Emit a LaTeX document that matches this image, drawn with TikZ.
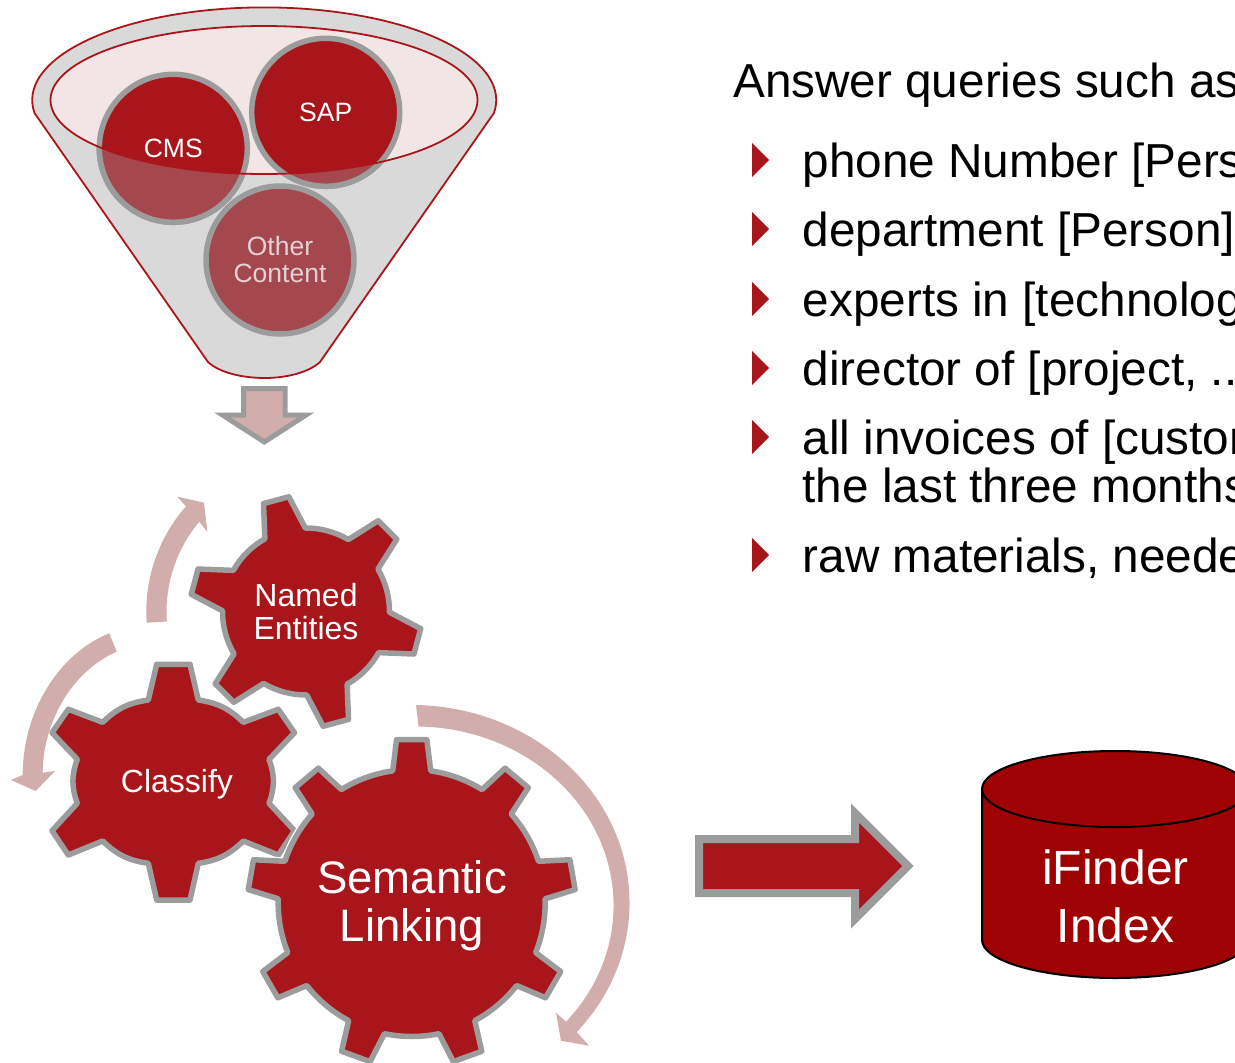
\documentclass[tikz,border=0pt]{standalone}
\usepackage{fontspec}
\setmainfont{Liberation Sans}
\usetikzlibrary{shadows}
\definecolor{brick}{HTML}{A8161C}
\definecolor{dimred}{HTML}{A5484E}
\definecolor{rim}{HTML}{9C9C9C}
\definecolor{funnelgray}{HTML}{D9D9D9}
\definecolor{blush}{HTML}{F1E5E5}
\definecolor{rose}{HTML}{D1ADAC}
\definecolor{cylred}{HTML}{9E0202}
\definecolor{dimtext}{HTML}{E3D2D3}
\tikzset{
  gearbody/.style={fill=brick,draw=rim,line width=5.5pt,line join=round},
  gearhalo/.style={draw=white,line width=8pt,line join=round},
  rosearrow/.style={fill=rose,draw=none},
  disc/.style={fill=brick,draw=rim,line width=5.5pt},
  dimdisc/.style={fill=dimred,draw=rim,line width=5.5pt},
  funnelline/.style={draw=brick,line width=1.8pt},
  lbl/.style={inner sep=0pt,align=center,text=white},
  bodytext/.style={inner sep=0pt,anchor=base west,text=black,font=\fontsize{47.7}{48}\selectfont},
  bullet/.style={fill=brick,draw=none},
}
% #1 cx, #2 cy, #3 teeth, #4 phase, #5 tip r, #6 root r, #7 tip half angle, #8 root half angle, #9 style
\newcommand{\gearshape}[9]{%
  \path[#9] ([shift={(#1,#2)}]#4-#8:#6)
  \foreach \k [evaluate=\k as \a using #4+(\k-1)*360/#3] in {1,...,#3} {
    -- ([shift={(#1,#2)}]\a-#8:#6)
    -- ([shift={(#1,#2)}]\a-#7:#5)
    -- ([shift={(#1,#2)}]\a+#7:#5)
    -- ([shift={(#1,#2)}]\a+#8:#6)
    arc[start angle={\a+#8},end angle={\a+360/#3-#8},radius=#6]
  } -- cycle;}
\newcommand{\rowbullet}[1]{\path[bullet] (752,{-(#1)+17}) -- (769,{-(#1)}) -- (752,{-(#1)-17}) -- cycle;}
\newcommand{\funnelpath}{(34.5,-113) arc[start angle=188,end angle=-8,x radius=232,y radius=92.7] -- (320,-362) .. controls (308,-373) and (285,-378) .. (265,-378) .. controls (243,-378) and (220,-373) .. (208,-362) -- cycle}
\newcommand{\innerpath}{(264,-100) ellipse[x radius=213.5,y radius=74]}
\begin{document}
\begin{tikzpicture}[x=1pt,y=1pt]
\useasboundingbox (0,0) rectangle (1235,-1063);
\clip (0,0) rectangle (1235,-1063);

% funnel
\path[fill=funnelgray,funnelline] \funnelpath;
\path[fill=blush] \innerpath;
\path[disc] (173.3,-148.3) circle[radius=74];
\path[disc] (325.7,-112.3) circle[radius=74];
\path[dimdisc] (280,-260) circle[radius=74];
\begin{scope}[even odd rule]
  \clip (0,0) rectangle (1235,-1063) \innerpath;
  \path[dimdisc] (173.3,-148.3) circle[radius=74];
  \path[dimdisc] (325.7,-112.3) circle[radius=74];
\end{scope}
\path[funnelline] \innerpath;
\node[lbl,font=\fontsize{26.5}{27}\selectfont] (cms) at (173.3,-148.5) {CMS};
\node[lbl,font=\fontsize{26.5}{27}\selectfont] (sap) at (325.7,-112.5) {SAP};
\node[lbl,text=dimtext,font=\fontsize{26.5}{27}\selectfont] (other) at (280,-260) {Other\\Content};

% down arrow
\path[fill=rose,draw=rim,line width=5pt,miter limit=10] (243.5,-388.5) -- (285,-388.5) -- (285,-415) -- (306,-415) -- (264.3,-442) -- (222.5,-415) -- (243.5,-415) -- cycle;

% curved arrows
\path[rosearrow] (146.7,-622.7) arc[start angle=184,end angle=138.7,radius=159.5] -- (177.3,-496.7) -- (204,-502.7) -- (207.3,-531.7) -- (199.3,-521.7) arc[start angle=140,end angle=184,radius=140] -- cycle;
\path[rosearrow] (109.3,-633.3) .. controls (60,-653) and (22.7,-710) .. (22.7,-775) -- (10.7,-780) -- (35.7,-791) -- (55,-771) -- (42.7,-772.7) .. controls (42.7,-725) and (70,-672) .. (116.7,-651.7) -- cycle;
\path[rosearrow] (416,-705) arc[start angle=88.7,end angle=-40.7,x radius=218.5,y radius=198] -- (589,-1045.7) -- (561,-1040.7) -- (556,-1012.7) -- (566,-1021.7) arc[start angle=-40.5,end angle=89,x radius=198.5,y radius=179] -- cycle;

% gears
\path[gearbody] (156.7,-664.3) -- (190,-664.3) -- (198.3,-700) to[bend left=18] (243.3,-722.3) -- (278.3,-709.3) -- (294.5,-732.7) -- (269,-759.3) to[bend left=20] (269,-803.3) -- (294.5,-830.7) -- (278.3,-855) -- (243.3,-841) to[bend left=18] (198.3,-863.3) -- (190,-900) -- (156.7,-900) -- (148.3,-863.3) to[bend left=18] (102.7,-841) -- (68.3,-855) -- (52,-830.7) -- (77.3,-803.3) to[bend left=20] (77.3,-759.3) -- (52,-732.7) -- (68.3,-709.3) -- (102.7,-722.3) to[bend left=18] (148.3,-700) -- cycle;
\gearshape{306}{-611.5}{6}{45}{116}{83.5}{6.5}{14.5}{gearbody}
\gearshape{411.7}{-903}{9}{90}{164}{133.5}{5.3}{8.2}{gearhalo}
\gearshape{411.7}{-903}{9}{90}{164}{133.5}{5.3}{8.2}{gearbody}
\node[lbl,font=\fontsize{32}{33}\selectfont] (classify) at (177,-784) {Classify};
\node[lbl,font=\fontsize{32}{33}\selectfont] (named) at (306,-612) {Named\\Entities};
\node[lbl,font=\fontsize{45.5}{48}\selectfont] (semantic) at (412,-906) {Semantic\\Linking};

% big arrow
\path[fill=brick,draw=rim,line width=8pt,miter limit=10,drop shadow={shadow xshift=2pt,shadow yshift=-3pt,opacity=.3,fill=black!60}] (699,-839) -- (855,-839) -- (855,-813) -- (908,-866) -- (855,-919) -- (855,-893) -- (699,-893) -- cycle;

% cylinder
\path[fill=cylred,draw=black,line width=2pt] (982,-789) -- (982,-940) arc[start angle=180,end angle=360,x radius=133,y radius=38] -- (1248,-789) arc[start angle=0,end angle=180,x radius=133,y radius=38] -- cycle;
\path[draw=black,line width=2pt] (982,-789) arc[start angle=180,end angle=360,x radius=133,y radius=38];
\node[lbl,font=\fontsize{48}{58}\selectfont] (index) at (1115.5,-896) {iFinder\\Index};

% text
\node[bodytext] (head) at (733,-97) {Answer queries such as};
\rowbullet{160}\rowbullet{229}\rowbullet{299}\rowbullet{368}\rowbullet{437}\rowbullet{555}
\node[bodytext] (q1) at (802.5,-177) {phone Number [Pers};
\node[bodytext] (q2) at (802.5,-246) {department [Person]};
\node[bodytext] (q3) at (802.5,-316) {experts in [technolog};
\node[bodytext] (q4) at (802.5,-385) {director of [project, ..};
\node[bodytext] (q5) at (802.5,-454) {all invoices of [custom};
\node[bodytext] (q5b) at (802.5,-502) {the last three months};
\node[bodytext] (q6) at (802.5,-572) {raw materials, needed};
\end{tikzpicture}
\end{document}
